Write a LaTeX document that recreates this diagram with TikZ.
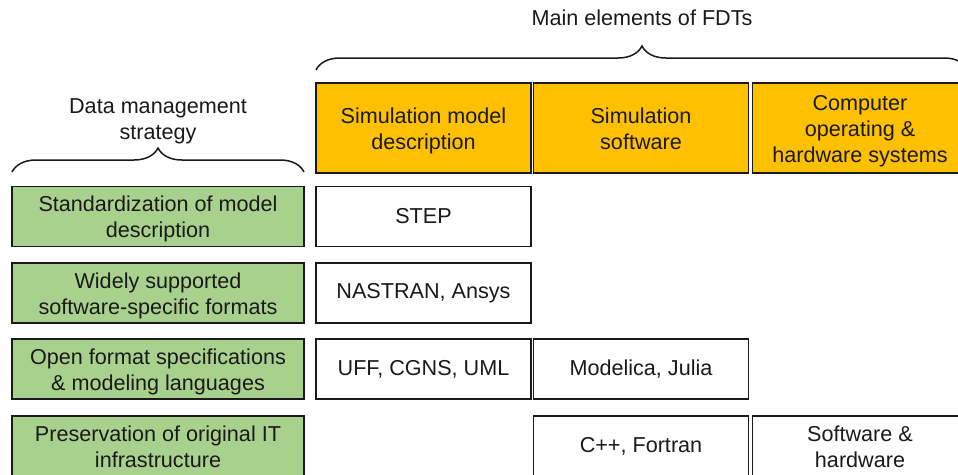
\documentclass[tikz,border=0pt]{standalone}
\usepackage{fontspec}
\setmainfont{Liberation Sans}
\usetikzlibrary{decorations.pathreplacing}
\definecolor{hdrgold}{HTML}{FFC000}
\definecolor{stratgreen}{HTML}{A9D18E}
\definecolor{inkc}{HTML}{1A1A1A}
% struts giving the first and last line of a text block full ascent / descent
\newcommand\hi{\rule{0pt}{21pt}}
\newcommand\lo{\rule[-4.6pt]{0pt}{0pt}}
\begin{document}
\begin{tikzpicture}[x=1pt,y=-1pt,
  words/.style={align=center,text=inkc,font=\fontsize{21.6}{26}\selectfont},
  cell/.style={words,draw=inkc,line width=1.5pt,rectangle,minimum width=215pt,minimum height=60pt,
    inner sep=0pt},
  strat/.style={cell,fill=stratgreen,minimum width=292pt},
  hdr/.style={cell,fill=hdrgold,minimum height=90pt},
  item/.style={cell,fill=white},
  bracket/.style={draw=inkc,line width=1.5pt,decorate,decoration={brace,amplitude=24pt}},
  caption/.style={words}]
\useasboundingbox (0,0) rectangle (958,474);
\clip (0,0) rectangle (958,474);

% headers: main elements of FDTs
\node[hdr] (h1) at (423.5,128) {\hi Simulation model\\description\lo};
\node[hdr] (h2) at (641,128) {\hi Simulation\\software\lo};
\node[hdr] (h3) at (860,128) {\hi Computer\\operating \&\\hardware systems\lo};

% data management strategies
\node[strat] (s1) at (158,216.5) {\hi Standardization of model\\description\lo};
\node[strat] (s2) at (158,293) {\hi Widely supported\\software-specific formats\lo};
\node[strat] (s3) at (158,369) {\hi Open format specifications\\\& modeling languages\lo};
\node[strat] (s4) at (158,446) {\hi Preservation of original IT\\infrastructure\lo};

% examples per strategy and element
\node[item] (e1) at (423.5,216.5) {STEP};
\node[item] (e2) at (423.5,293) {NASTRAN, Ansys};
\node[item] (e3) at (423.5,369) {UFF, CGNS, UML};
\node[item] (e4) at (641,369) {Modelica, Julia};
\node[item] (e5) at (641,446) {C++, Fortran};
\node[item] (e6) at (860,446) {\hi Software \&\\hardware\lo};

% braces with their captions
\coordinate (lbA) at (12,172);
\coordinate (lbB) at (304,172);
\draw[bracket] (lbA) -- (lbB);
\node[caption] (lcap) at (158,121) {Data management\\strategy};

\coordinate (tbA) at (316,70);
\coordinate (tbB) at (968,70);
\draw[bracket] (tbA) -- (tbB);
\node[caption] (tcap) at (642,18) {Main elements of FDTs};
\end{tikzpicture}
\end{document}
